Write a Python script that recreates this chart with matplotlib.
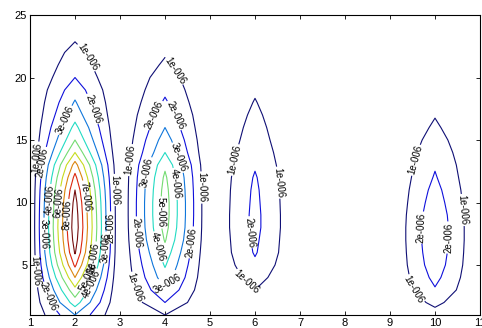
import matplotlib
matplotlib.use("Agg")
import matplotlib.pyplot as plt
import numpy as np

# grid: columns at integer x, rows at integer y
x_vals = [1, 2, 3, 4, 5, 6, 7, 8, 9, 10, 11]
y_vals = list(range(1, 26))

# column profiles (units of 1e-6), y = 1..25; all other columns are zero
col_x2 = [3.0, 4.5, 5.7, 7.0, 8.2, 9.1, 9.5, 9.7, 9.6, 9.4, 9.0, 8.3, 7.4,
          6.0, 5.0, 4.3, 3.6, 3.1, 2.6, 2.0, 1.6, 1.3, 0.95, 0.7, 0.5]
col_x4 = [1.0, 2.0, 2.9, 3.6, 4.1, 4.6, 5.1, 5.4, 5.5, 5.5, 5.4, 5.2, 4.8,
          4.0, 3.5, 3.0, 2.6, 2.15, 1.8, 1.5, 1.15, 0.9, 0.7, 0.5, 0.4]
col_x6 = [0.3, 0.65, 1.0, 1.4, 1.8, 2.1, 2.2, 2.3, 2.3, 2.25, 2.2, 2.1, 1.9,
          1.7, 1.5, 1.35, 1.2, 1.05, 0.9, 0.75, 0.6, 0.5, 0.4, 0.3, 0.25]
col_x10 = [0.6, 1.25, 1.9, 2.3, 2.6, 2.75, 2.85, 2.85, 2.75, 2.55, 2.35, 2.1,
           1.9, 1.65, 1.4, 1.15, 0.95, 0.8, 0.65, 0.55, 0.45, 0.35, 0.3,
           0.25, 0.2]

levels = [1e-6, 2e-6, 3e-6, 4e-6, 5e-6, 6e-6, 7e-6, 8e-6, 9e-6]

# where the reference puts its inline labels (x, y)
label_spots = [
    # peak at x=2
    (2.25, 21.6), (2.4, 17.5), (1.77, 16.6), (1.14, 13.6), (1.27, 13.2),
    (1.43, 10.2), (2.88, 11.0), (2.79, 8.0), (2.68, 6.4), (1.31, 7.5),
    (1.16, 4.5), (1.38, 2.4), (2.26, 10.5), (1.64, 10.0), (1.85, 9.0),
    (2.3, 4.0), (2.37, 3.5), (2.43, 5.6),
    # peak at x=4
    (4.2, 20.5), (3.77, 17.0), (4.23, 17.0), (3.22, 13.4), (3.59, 12.4),
    (4.3, 13.6), (4.25, 11.5), (3.91, 9.2), (4.81, 11.2), (4.6, 6.8),
    (3.8, 6.4), (3.38, 7.6), (3.33, 3.2), (4.05, 3.5),
    # peak at x=6
    (5.56, 13.4), (6.55, 11.6), (5.85, 7.6), (5.8, 3.6),
    # peak at x=10
    (9.56, 13.4), (10.62, 9.4), (9.7, 8.0), (10.3, 7.2), (9.5, 3.0),
]

Z = np.zeros((len(y_vals), len(x_vals)))
for xc, col in [(2, col_x2), (4, col_x4), (6, col_x6), (10, col_x10)]:
    Z[:, x_vals.index(xc)] = np.array(col) * 1e-6
X, Y = np.meshgrid(x_vals, y_vals)

plt.rcParams["font.family"] = ["Liberation Sans", "DejaVu Sans"]

# jet colours, a bit dulled like the old screenshot
jet = plt.get_cmap("jet")
line_colors = [tuple(0.8 * np.array(jet(i / (len(levels) - 1))[:3]) + 0.2 * 0.3)
               for i in range(len(levels))]

fig = plt.figure(figsize=(4.82, 3.28), dpi=100)
ax = fig.add_axes([30 / 482, 13 / 328, 450 / 482, 300 / 328])

cs = ax.contour(X, Y, Z, levels=levels, colors=line_colors, linewidths=0.8)


def matlab_fmt(v):
    # MATLAB (windows) style: 1e-006
    mant, exp = f"{v:.0e}".split("e")
    return f"{mant}e-{abs(int(exp)):03d}"


ax.clabel(cs, fmt=matlab_fmt, fontsize=7, colors="black", inline=True,
          inline_spacing=1, manual=label_spots)

ax.set_xlim(1, 11)
ax.set_ylim(1, 25)
ax.set_xticks(range(1, 12))
ax.set_yticks([5, 10, 15, 20, 25])
ax.tick_params(direction="in", top=True, right=True, length=3, width=0.6,
               labelsize=8, pad=2)
for sp in ax.spines.values():
    sp.set_linewidth(0.8)

fig.savefig("out.png", dpi=100)
